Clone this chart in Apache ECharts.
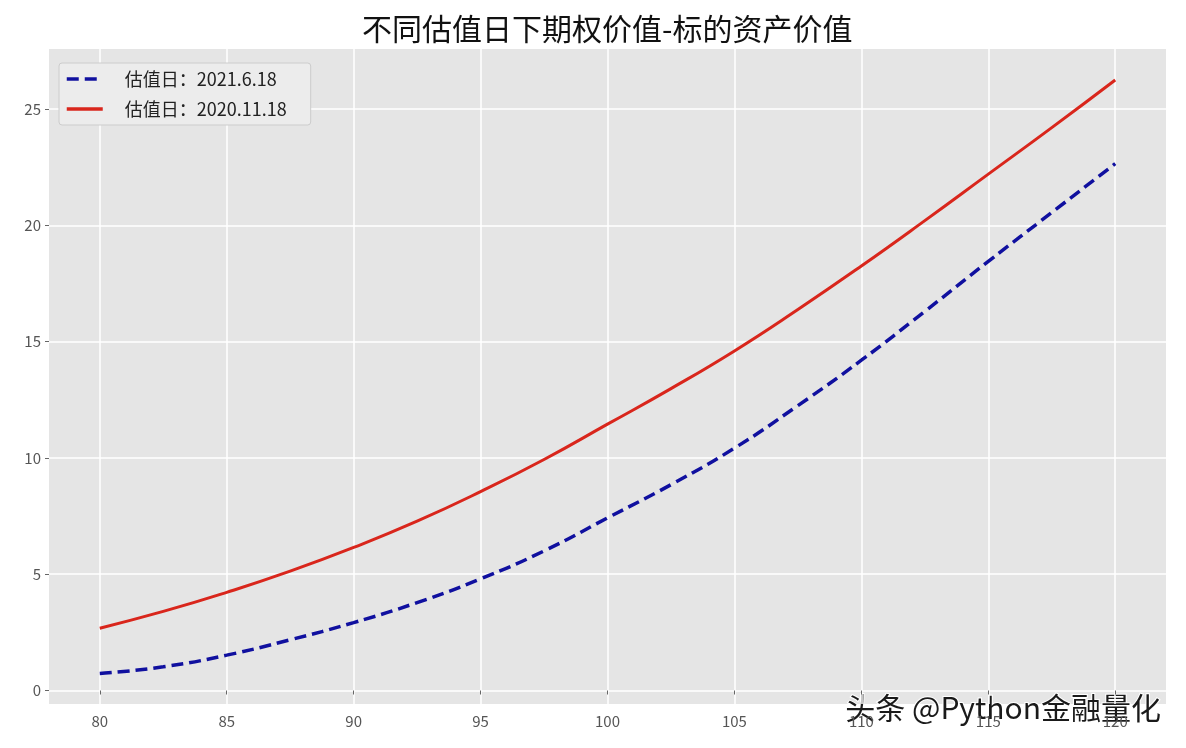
<!DOCTYPE html>
<html>
<head>
<meta charset="utf-8">
<script src="https://cdn.jsdelivr.net/npm/echarts@6/dist/echarts.min.js"></script>
<style>
  html, body { margin: 0; padding: 0; background: #fff; }
  #main { width: 1186px; height: 748px; }
</style>
</head>
<body>
<div id="main"></div>
<script>
// underlying asset price (x) and option value for two valuation dates
const prices = [80, 82.5, 85, 87.5, 90, 92.5, 95, 97.5, 100, 102.5, 105, 107.5, 110, 112.5, 115, 117.5, 120];
const valueJun2021 = [0.73, 1.02, 1.52, 2.18, 2.92, 3.78, 4.8, 6.0, 7.42, 8.85, 10.42, 12.25, 14.2, 16.3, 18.45, 20.55, 22.65];
const valueNov2020 = [2.68, 3.4, 4.22, 5.13, 6.15, 7.28, 8.55, 9.93, 11.45, 12.98, 14.6, 16.38, 18.25, 20.2, 22.2, 24.2, 26.25];
const xTicks = [80, 85, 90, 95, 100, 105, 110, 115, 120];
const yTicks = [0, 5, 10, 15, 20, 25];

const FONT = '"Noto Sans CJK SC", "DejaVu Sans", sans-serif';

const toPairs = (xs, ys) => xs.map((x, i) => [x, ys[i]]);

const myChart = echarts.init(document.getElementById('main'));
const option = {
    backgroundColor: '#ffffff',
    animation: false,
    title: {
        text: '不同估值日下期权价值-标的资产价值',
        left: 357,
        top: 9,
        textStyle: { fontFamily: FONT, fontSize: 30, fontWeight: 'normal', color: '#111' }
    },
    legend: {
        orient: 'vertical',
        left: 59,
        top: 63,
        padding: [7, 24, 7, 6],
        itemWidth: 36,
        itemHeight: 14,
        itemGap: 12,
        backgroundColor: '#ececec',
        borderColor: '#cccccc',
        borderWidth: 1,
        borderRadius: 3,
        itemStyle: { opacity: 0 },
        lineStyle: { width: 3.5 },
        textStyle: { fontFamily: FONT, fontSize: 18, color: '#222', padding: [0, 0, 0, 17] },
        data: ['估值日：2021.6.18', '估值日：2020.11.18']
    },
    grid: {
        show: true,
        left: 49,
        right: 20,
        top: 49,
        bottom: 44,
        backgroundColor: '#e5e5e5',
        borderWidth: 0
    },
    xAxis: {
        type: 'value',
        min: 78,
        max: 122,
        axisLine: { show: false },
        axisTick: { show: true, length: 4, lineStyle: { color: '#666' }, customValues: xTicks },
        axisLabel: { fontFamily: FONT, fontSize: 15, color: '#555', margin: 10, customValues: xTicks },
        splitLine: { show: true, lineStyle: { color: '#ffffff', width: 1.5 } }
    },
    yAxis: {
        type: 'value',
        min: -0.58,
        max: 27.58,
        axisLine: { show: false },
        axisTick: { show: true, length: 4, lineStyle: { color: '#666' }, customValues: yTicks },
        axisLabel: { fontFamily: FONT, fontSize: 15, color: '#555', margin: 8, customValues: yTicks },
        splitLine: { show: true, lineStyle: { color: '#ffffff', width: 1.5 } }
    },
    series: [
        {
            name: '估值日：2021.6.18',
            type: 'line',
            smooth: true,
            symbol: 'none',
            data: toPairs(prices, valueJun2021),
            lineStyle: { color: '#10109f', width: 3.5, type: [12, 6] },
            itemStyle: { color: '#10109f' }
        },
        {
            name: '估值日：2020.11.18',
            type: 'line',
            smooth: true,
            symbol: 'none',
            data: toPairs(prices, valueNov2020),
            lineStyle: { color: '#d9261c', width: 3 },
            itemStyle: { color: '#d9261c' }
        }
    ],
    graphic: [
        {
            type: 'text',
            right: 24,
            top: 692,
            style: {
                text: '头条 @Python金融量化',
                fontFamily: FONT,
                fontSize: 30,
                fill: '#1a1a1a',
                stroke: '#ffffff',
                lineWidth: 2
            }
        }
    ]
};

myChart.setOption(option);
</script>
</body>
</html>
